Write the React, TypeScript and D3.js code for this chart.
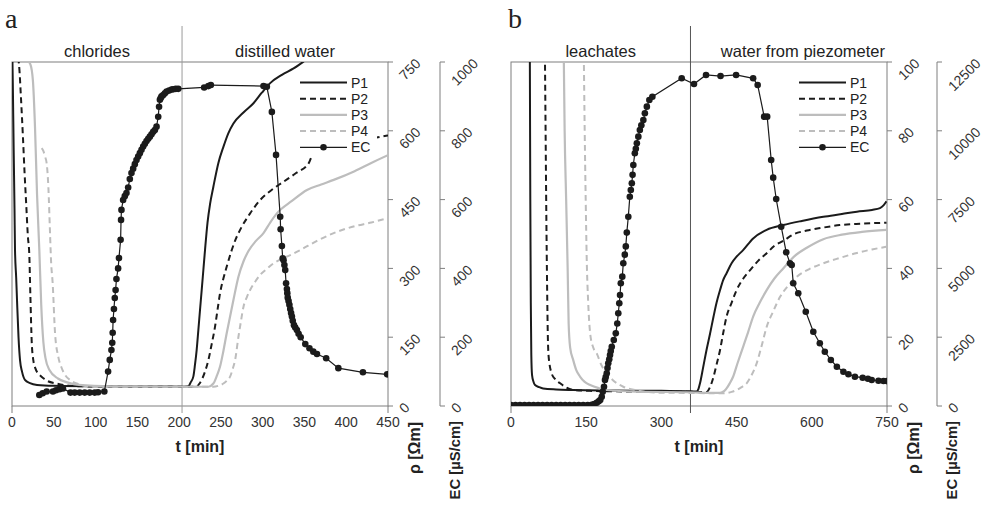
import React from "react";
import * as d3 from "d3";

type Pt = [number, number];

const SANS = "'Liberation Sans', Arial, Helvetica, sans-serif";
const SERIF = "'Liberation Serif', 'Times New Roman', serif";

// ---------- panel a : chlorides -> distilled water ----------
const aTimeTicks = [0, 50, 100, 150, 200, 250, 300, 350, 400, 450];
const aRhoTicks = [0, 150, 300, 450, 600, 750];
const aEcTicks = [0, 200, 400, 600, 800, 1000];
const aSections = ["chlorides", "distilled water"];

const aP1: Pt[] = [[0.3,780],[1,700],[2,560],[3,430],[3.6,340],[5,280],[6,231],[7.8,150],[9.6,100],[12,75],[15.5,57],[21.5,50],[30,46],[50,44],[100,43],[180,42.5],[205,42],[211,43],[214,52],[217,64],[219,90],[221,122],[223,165],[225,209],[227,252],[229,296],[231,340],[234,400],[237,440],[241,478],[247,530],[253,565],[259,595],[265,616],[277,640],[289,660],[299,683],[309,704],[323,722],[337,736],[349,751],[365,773]];
const aP2: Pt[] = [[7.5,760],[9,730],[10.5,680],[13,590],[15,510],[17,440],[19,370],[20.7,330],[22,240],[23.6,140],[25.5,100],[28,82],[33,68],[38,60],[42,55],[53,49],[70,44],[100,42.5],[200,42],[221,42],[224,48],[227,57],[231,75],[235,100],[239,135],[243,173],[246,210],[249,246],[253,278],[257,304],[263,340],[268,365],[273,384],[285,420],[297,449],[310,470],[325,489],[340,508],[355,529],[360,551],[364,568],[368,578],[375,577],[390,576],[410,578],[430,583],[450,590]];
const aP3: Pt[] = [[19,752],[22,745],[25,710],[27.5,610],[30,460],[32.7,340],[35,220],[37.5,140],[40,105],[45,78],[55,60],[65,52],[80,46],[120,43],[200,42],[235,42],[241,49],[245,65],[249,86],[253,120],[257,159],[261,195],[265,231],[271,282],[277,315],[283,338],[292,360],[301,377],[309,400],[317,420],[335,447],[353,471],[370,483],[385,493],[410,512],[430,530],[450,547]];
const aP4: Pt[] = [[35.5,562],[37.5,556],[39.5,544],[41.5,529],[43.5,478],[45.5,377],[46.7,318],[48.7,267],[51.5,159],[55.4,107],[59,85],[63.4,68],[70,56],[77.4,49],[97,42],[200,42],[241,42],[247,44],[253,49],[257,55],[261,64],[264,80],[267,100],[271,151],[274,185],[277,216],[281,237],[285,253],[291,271],[297,286],[305,299],[313,311],[323,321],[333,329],[345,340],[365,360],[385,377],[410,392],[430,400],[450,410]];
const aEC: Pt[] = [[32.7,32],[36.7,37],[41.5,42],[49,42],[52.7,46],[57,49],[61,51],[70,39],[75,39],[81,39],[87,39],[93,39],[99,39],[103,40],[110.5,42],[115,100],[117,134],[119,163],[120,184],[120.5,213],[121,250],[122,282],[123,314],[124,337],[125,369],[127,400],[128,430],[130,483],[130.5,541],[131,570],[133,599],[135,610],[137,619],[139,635],[141,660],[143,677],[145,690],[147,703],[149,715],[151,725],[153,735],[155,745],[157,754],[159,762],[161,770],[163,777],[165,783],[167,790],[169,797],[171,802],[173,812],[175,841],[176,870],[177,890],[178,895],[179,900],[181,904],[183,909],[185,914],[188,917],[191,920],[193,921],[196,922],[199,922],[230,926],[235,930],[238,933],[301,930],[305,928],[311,855],[316,730],[321,550],[321.5,514],[323,465],[324,429],[325,424],[326,410],[327,395],[328,357],[329,340],[329.5,328],[330,315],[331,305],[332,294],[333,282],[334,270],[335,260],[336,248],[337.5,235],[339,228],[341,221],[343,210],[345.5,200],[351,180],[356,168],[360.6,158],[365,151],[376,139],[390.6,110],[420,98],[449,92]];

// ---------- panel b : leachates -> water from piezometer ----------
const bTimeTicks = [0, 150, 300, 450, 600, 750];
const bRhoTicks = [0, 20, 40, 60, 80, 100];
const bEcTicks = [0, 2500, 5000, 7500, 10000, 12500];
const bSections = ["leachates", "water from piezometer"];

const bP1: Pt[] = [[37.5,105],[38.5,60],[39.5,30],[40.5,15],[42,9],[45,7],[48,6.1],[56,5.5],[64,5.1],[90,4.8],[124,4.65],[200,4.5],[300,4.4],[360,4.3],[370,4.2],[374,5],[377,6.6],[383,11],[390,16.3],[397,21],[404,26],[410,30],[417,33.7],[423,36.5],[430,38.6],[440,41.5],[450,43.4],[463,45.3],[483,48.7],[510,51.2],[543,52.6],[580,53.8],[623,55],[660,55.8],[690,56.5],[720,57],[736,57.5],[743,58.3],[749,59.5]];
const bP2: Pt[] = [[67.5,105],[69,80],[70.5,55],[72,35],[73.5,20],[75,14.5],[81,9.5],[88,7.8],[98,6.6],[110,5.4],[124,4.65],[157,4.4],[250,4.2],[390,4.1],[397,5.5],[404,8.5],[410,12],[417,16.3],[423,21],[430,26],[440,30],[450,33.7],[463,37],[477,39.5],[493,42.2],[510,44.4],[525,46.5],[543,48],[565,50],[590,51],[620,51.8],[656,52.6],[700,53],[749,53.3]];
const bP3: Pt[] = [[105,105],[107,80],[110,60],[113,40],[115,24],[118,17],[124,13.4],[130,10.5],[138,8.5],[147,7],[158,6.1],[175,5.2],[191,4.65],[250,4.2],[350,4],[417,3.8],[425,4.3],[430,5.1],[436,6.5],[443,8.5],[452,12.5],[463,17.2],[473,21.5],[483,26],[496,30],[510,33.7],[525,37],[543,40],[565,43.5],[590,46],[623,48.5],[660,49.8],[700,50.6],[749,51.2]];
const bP4: Pt[] = [[145,105],[147,80],[149,60],[151,43],[154,30],[158,21],[164,17],[171,15.3],[180,12],[191,9.5],[205,7.3],[224,5.6],[250,4.6],[290,3.9],[350,3.8],[423,3.7],[440,4.1],[450,4.65],[460,5.5],[470,6.6],[480,9],[490,12.4],[500,17.5],[510,23],[523,27.5],[537,31.8],[553,35],[570,37.6],[595,39.8],[623,41.5],[655,43],[690,44.5],[720,45.5],[749,46.3]];
const bEC: Pt[] = [[0,30],[9,30],[18,30],[27,30],[36,30],[45,30],[54,30],[63,30],[72,30],[81,30],[90,30],[99,30],[108,30],[117,30],[126,30],[135,30],[144,30],[153,30],[161,40],[166,70],[171,120],[175,170],[178,218],[181,338],[183,520],[185.5,700],[187.5,945],[189,1050],[191,1188],[192.5,1380],[194,1550],[196,1700],[197.5,1853],[199,2000],[201,2155],[205,2398],[209,2640],[212,3000],[214,3368],[216,3732],[217.5,4034],[219,4459],[222,4700],[224,5186],[227,5500],[229,5800],[231,6300],[234,6879],[237,7606],[239,7850],[241,8093],[242.5,8400],[244,8758],[247,9183],[249,9350],[251,9547],[254,9787],[257,10030],[260,10200],[264,10393],[267,10636],[271,10878],[276,11120],[282,11240],[340.5,11908],[365,11700],[389,12030],[418,11990],[449,12030],[483,11908],[492,11665],[505,10514],[511,10514],[519,8940],[523,8297],[529,7522],[539,6516],[549,5585],[556.5,5186],[560,5124],[563,4459],[573,4095],[588,3427],[603,2700],[616,2279],[626,1973],[638,1672],[650,1428],[663,1247],[673,1152],[686,1065],[701.5,1029],[712,990],[719.5,945],[733,920],[743,908],[750,905]];

const legendNames = ["P1", "P2", "P3", "P4", "EC"];

const lineStyles = [
  { color: "#1b1b1b", dash: "", width: 2 },
  { color: "#1b1b1b", dash: "6 4", width: 2 },
  { color: "#bdbdbd", dash: "", width: 2.2 },
  { color: "#bdbdbd", dash: "6 4", width: 2 },
];

const top = 62;
const bottom = 406;
const axisColor = "#7f7f7f";

// rotated (-45deg) tick label, left edge fixed, end of text near the tick
function RotLabel({ x, y, text }: { x: number; y: number; text: string }) {
  const len = text.length * 7.8;
  return (
    <text
      transform={`translate(${x}, ${y + 2.5 + 0.707 * len}) rotate(-45)`}
      fontSize={14}
      fontFamily={SANS}
      fill="#333"
    >
      {text}
    </text>
  );
}

function Panel(props: any) {
  const {
    id, letter, left, right, tMax, rhoMax, ecMax, split, ecAxisX,
    sections, timeTicks, rhoTicks, ecTicks, series, ec, dividerColor, lastEnd,
  } = props;

  const x = d3.scaleLinear().domain([0, tMax]).range([left, right]);
  const yR = d3.scaleLinear().domain([0, rhoMax]).range([bottom, top]);
  const yE = d3.scaleLinear().domain([0, ecMax]).range([bottom, top]);

  const pLine = d3.line<Pt>().x((d) => x(d[0])).y((d) => yR(d[1])).curve(d3.curveMonotoneX);
  const ecLine = d3.line<Pt>().x((d) => x(d[0])).y((d) => yE(d[1]));

  const xs = x(split);
  const legX = right - 88;
  const legY = 82.5;
  const rowH = 16.2;

  return (
    <g>
      <defs>
        <clipPath id={id}>
          <rect x={left} y={top} width={right - left} height={bottom - top} />
        </clipPath>
      </defs>

      <text x={letter.x} y={28} fontFamily={SERIF} fontSize={28} fill="#222">{letter.t}</text>

      {/* frame */}
      <rect x={left} y={top} width={right - left} height={bottom - top} fill="none" stroke={axisColor} strokeWidth={1} />
      <line x1={left} x2={left} y1={bottom} y2={bottom + 7} stroke={axisColor} />
      <line x1={right} x2={right} y1={bottom} y2={bottom + 7} stroke={axisColor} />

      {/* section divider and labels */}
      <line x1={xs} x2={xs} y1={26} y2={bottom + 7} stroke={dividerColor} strokeWidth={1} />
      <text x={(left + xs) / 2} y={56.5} textAnchor="middle" fontFamily={SANS} fontSize={16.5} fill="#222">{sections[0]}</text>
      {lastEnd ? (
        <text x={right - 2} y={56.5} textAnchor="end" fontFamily={SANS} fontSize={16.5} fill="#222">{sections[1]}</text>
      ) : (
        <text x={(xs + right) / 2} y={56.5} textAnchor="middle" fontFamily={SANS} fontSize={16.5} fill="#222">{sections[1]}</text>
      )}

      {/* data */}
      <g clipPath={`url(#${id})`}>
        {series.map((s: Pt[], i: number) => (
          <path key={i} d={pLine(s) || ""} fill="none" stroke={lineStyles[i].color}
            strokeWidth={lineStyles[i].width} strokeDasharray={lineStyles[i].dash || undefined} />
        ))}
        <path d={ecLine(ec) || ""} fill="none" stroke="#1b1b1b" strokeWidth={1.2} />
        {ec.map((d: Pt, i: number) => (
          <circle key={i} cx={x(d[0])} cy={yE(d[1])} r={3.3} fill="#1b1b1b" />
        ))}
      </g>

      {/* legend */}
      <rect x={legX - 3} y={71} width={80} height={84} fill="#fff" />
      {legendNames.map((n, i) => {
        const yy = legY + i * rowH;
        return (
          <g key={n}>
            {i < 4 ? (
              <line x1={legX} x2={legX + 47} y1={yy} y2={yy} stroke={lineStyles[i].color}
                strokeWidth={lineStyles[i].width} strokeDasharray={lineStyles[i].dash || undefined} />
            ) : (
              <g>
                <line x1={legX} x2={legX + 47} y1={yy} y2={yy} stroke="#1b1b1b" strokeWidth={1.2} />
                <circle cx={legX + 23.5} cy={yy} r={3.3} fill="#1b1b1b" />
              </g>
            )}
            <text x={legX + 51} y={yy + 5} fontFamily={SANS} fontSize={14} fill="#222">{n}</text>
          </g>
        );
      })}

      {/* time axis labels */}
      {timeTicks.map((t: number) => (
        <text key={t} x={x(t)} y={427} textAnchor="middle" fontFamily={SANS} fontSize={14} fill="#333">{t}</text>
      ))}
      <text x={(left + right) / 2} y={452} textAnchor="middle" fontFamily={SANS} fontSize={16} fontWeight="bold" fill="#222">t [min]</text>

      {/* rho axis (right of plot) */}
      {rhoTicks.map((v: number) => (
        <g key={v}>
          <line x1={right} x2={right + 5} y1={yR(v)} y2={yR(v)} stroke={axisColor} />
          <RotLabel x={right + 17} y={yR(v)} text={String(v)} />
        </g>
      ))}
      <text transform={`translate(${right + 32}, 422) rotate(-90)`} textAnchor="end" fontFamily={SANS} fontSize={16} fontWeight="bold" fill="#222">ρ [Ωm]</text>

      {/* EC axis */}
      <line x1={ecAxisX} x2={ecAxisX} y1={top} y2={bottom} stroke={axisColor} />
      {ecTicks.map((v: number) => (
        <g key={v}>
          <line x1={ecAxisX} x2={ecAxisX + 5} y1={yE(v)} y2={yE(v)} stroke={axisColor} />
          <RotLabel x={ecAxisX + 17} y={yE(v)} text={String(v)} />
        </g>
      ))}
      <text transform={`translate(${ecAxisX + 20}, 421) rotate(-90)`} textAnchor="end" fontFamily={SANS} fontSize={14.8} fontWeight="bold" fill="#222">EC [µS/cm]</text>
    </g>
  );
}

export default function App() {
  return (
    <svg width={986} height={505} style={{ position: "absolute", left: 0, top: 0, background: "#fff" }}>
      <Panel
        id="clipA" letter={{ t: "a", x: 5 }} left={12} right={388} tMax={450} rhoMax={750} ecMax={1000}
        split={203.5} ecAxisX={440} sections={aSections} timeTicks={aTimeTicks} rhoTicks={aRhoTicks}
        ecTicks={aEcTicks} series={[aP1, aP2, aP3, aP4]} ec={aEC} dividerColor="#9a9a9a" lastEnd={false}
      />
      <Panel
        id="clipB" letter={{ t: "b", x: 508 }} left={511} right={887} tMax={750} rhoMax={100} ecMax={12500}
        split={358} ecAxisX={937} sections={bSections} timeTicks={bTimeTicks} rhoTicks={bRhoTicks}
        ecTicks={bEcTicks} series={[bP1, bP2, bP3, bP4]} ec={bEC} dividerColor="#555" lastEnd={true}
      />
    </svg>
  );
}
